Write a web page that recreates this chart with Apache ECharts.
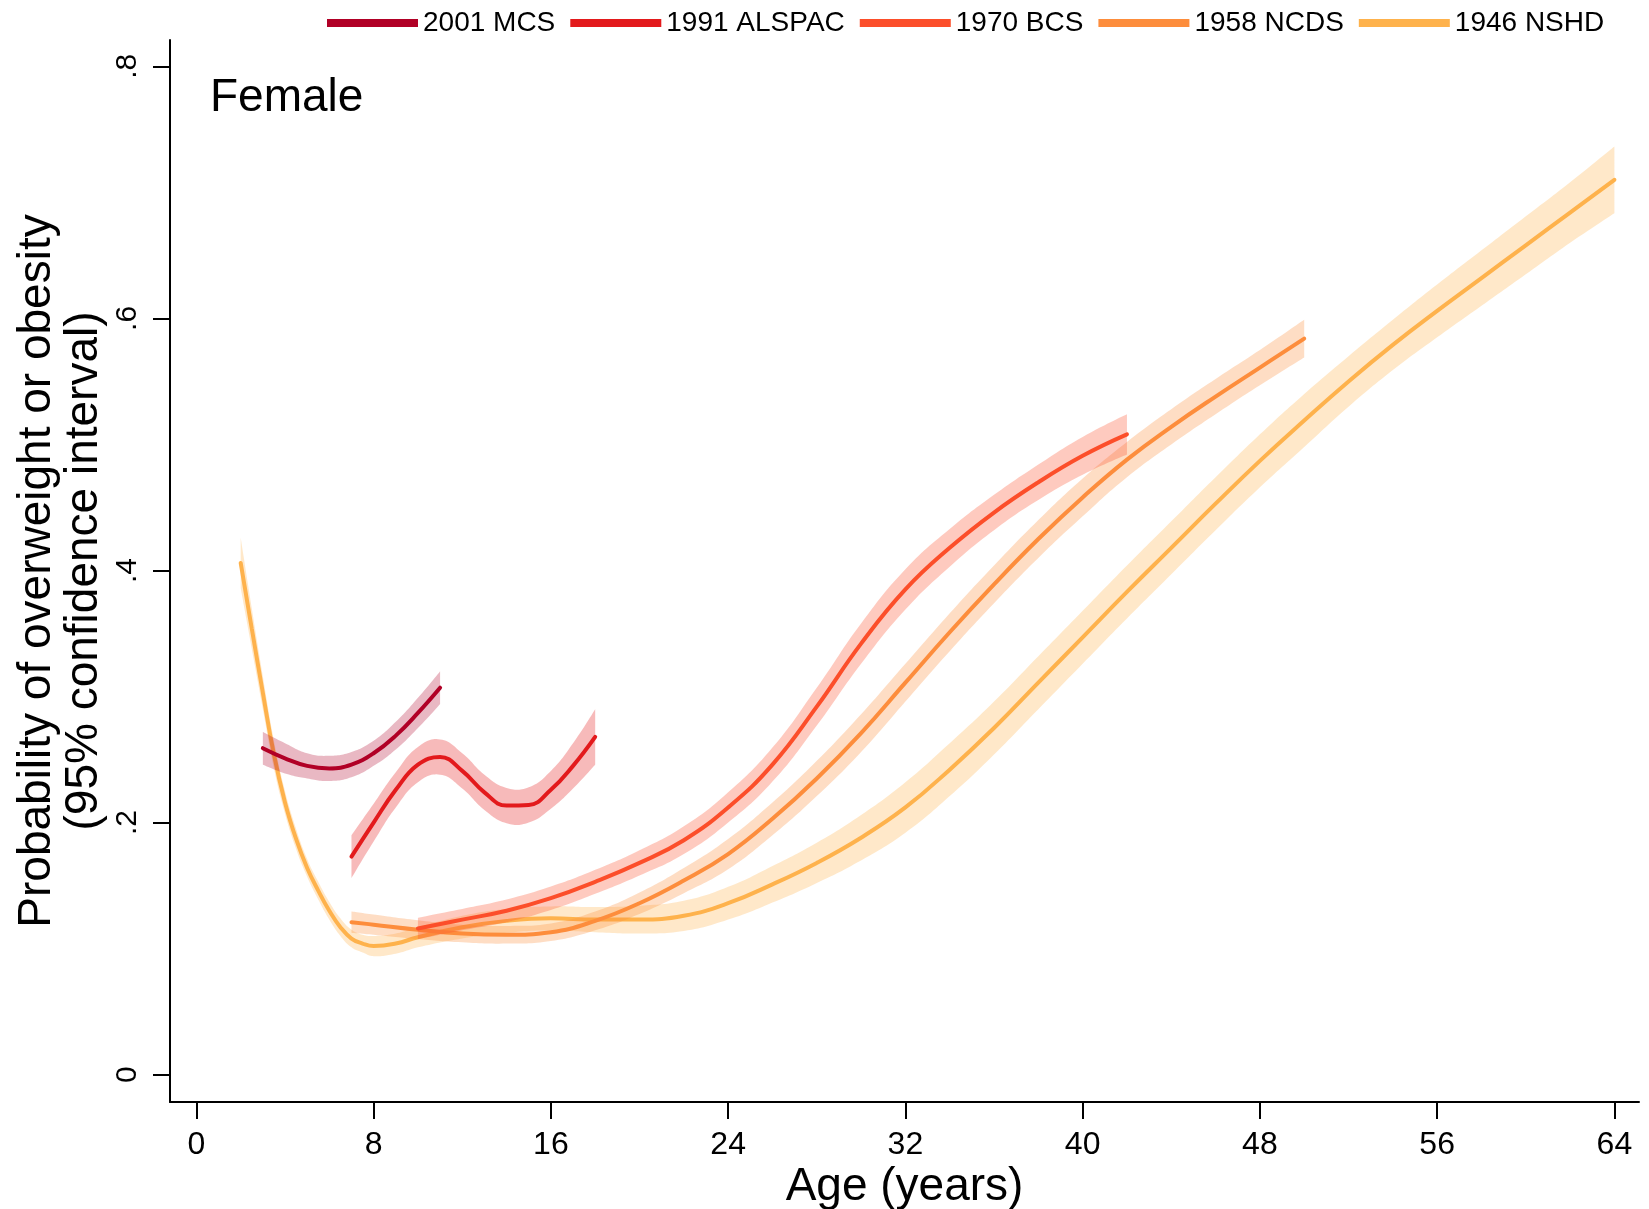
<!DOCTYPE html>
<html>
<head>
<meta charset="utf-8">
<title>Probability of overweight or obesity by age, female cohorts</title>
<script src="https://cdn.jsdelivr.net/npm/echarts@6/dist/echarts.min.js"></script>
<style>
  html, body { margin: 0; padding: 0; background: #ffffff; }
  #chart { width: 1649px; height: 1209px; }
</style>
</head>
<body>
<div id="chart"></div>
<script>
// ---- Data: predicted probability (with 95% CI) by age, per birth cohort ----
const xTicks = [0, 8, 16, 24, 32, 40, 48, 56, 64];
const yTicks = [0, 0.2, 0.4, 0.6, 0.8];

// 2001 Millennium Cohort Study
const mcsAge = [3, 4, 5, 6, 7, 8, 9, 10, 11];
const mcsEst = [0.259, 0.251, 0.245, 0.243, 0.246, 0.255, 0.269, 0.287, 0.307];
const mcsLo  = [0.246, 0.239, 0.235, 0.233, 0.236, 0.245, 0.258, 0.275, 0.294];
const mcsHi  = [0.272, 0.263, 0.255, 0.253, 0.256, 0.265, 0.280, 0.299, 0.320];

// 1991 ALSPAC
const alsAge = [7, 8, 9, 10, 11, 12, 13, 14, 15, 16, 17, 18];
const alsEst = [0.173, 0.200, 0.226, 0.246, 0.252, 0.241, 0.224, 0.2135, 0.214, 0.226, 0.245, 0.268];
const alsLo  = [0.156, 0.185, 0.212, 0.232, 0.238, 0.227, 0.210, 0.1995, 0.200, 0.211, 0.227, 0.246];
const alsHi  = [0.190, 0.215, 0.240, 0.260, 0.266, 0.255, 0.238, 0.2275, 0.228, 0.241, 0.263, 0.290];

// 1970 British Cohort Study
const bcsAge = [10, 12, 14, 16, 18, 20, 22, 24, 26, 28, 30, 32, 34, 36, 38, 40, 42];
const bcsEst = [0.116, 0.123, 0.130, 0.140, 0.153, 0.168, 0.186, 0.212, 0.246, 0.292, 0.342, 0.385, 0.418, 0.446, 0.470, 0.491, 0.508];
const bcsLo  = [0.1075, 0.1145, 0.121, 0.1307, 0.1435, 0.158, 0.175, 0.200, 0.2325, 0.277, 0.326, 0.369, 0.403, 0.432, 0.456, 0.476, 0.492];
const bcsHi  = [0.1245, 0.1315, 0.139, 0.1493, 0.1625, 0.178, 0.197, 0.224, 0.2595, 0.307, 0.358, 0.401, 0.433, 0.460, 0.484, 0.506, 0.524];

// 1958 National Child Development Study
const ncdsAge = [7, 8, 10, 12, 14, 16, 18, 20, 22, 24, 26, 28, 30, 32, 34, 36, 38, 40, 42, 44, 46, 48, 50];
const ncdsEst = [0.121, 0.119, 0.115, 0.112, 0.111, 0.113, 0.122, 0.136, 0.154, 0.175, 0.203, 0.235, 0.271, 0.311, 0.351, 0.389, 0.425, 0.458, 0.488, 0.514, 0.538, 0.561, 0.584];
const ncdsLo  = [0.1125, 0.111, 0.1075, 0.105, 0.104, 0.106, 0.1145, 0.1275, 0.144, 0.163, 0.190, 0.221, 0.256, 0.296, 0.336, 0.374, 0.410, 0.443, 0.474, 0.500, 0.524, 0.547, 0.569];
const ncdsHi  = [0.1295, 0.127, 0.1225, 0.119, 0.118, 0.120, 0.1295, 0.1445, 0.164, 0.187, 0.216, 0.249, 0.286, 0.326, 0.366, 0.404, 0.440, 0.473, 0.502, 0.528, 0.552, 0.575, 0.599];

// 1946 National Survey of Health and Development
const nshdAge = [2, 2.5, 3, 3.5, 4, 4.5, 5, 5.5, 6, 6.5, 7, 7.5, 8, 9, 10, 12, 14, 16, 18, 20, 22, 24, 26, 28, 30, 32, 34, 36, 38, 40, 42, 44, 46, 48, 50, 52, 54, 56, 58, 60, 62, 64];
const nshdEst = [0.406, 0.354, 0.303, 0.254, 0.216, 0.187, 0.164, 0.146, 0.130, 0.117, 0.108, 0.104, 0.102, 0.104, 0.109, 0.117, 0.122, 0.124, 0.123, 0.123, 0.126, 0.136, 0.151, 0.168, 0.188, 0.212, 0.242, 0.275, 0.311, 0.347, 0.383, 0.418, 0.453, 0.487, 0.519, 0.550, 0.579, 0.606, 0.632, 0.658, 0.684, 0.710];
const nshdLo  = [0.386, 0.338, 0.290, 0.243, 0.207, 0.179, 0.157, 0.139, 0.123, 0.110, 0.101, 0.097, 0.094, 0.096, 0.101, 0.108, 0.1125, 0.1145, 0.113, 0.112, 0.114, 0.123, 0.1365, 0.152, 0.170, 0.192, 0.221, 0.254, 0.290, 0.326, 0.362, 0.397, 0.432, 0.466, 0.498, 0.530, 0.559, 0.585, 0.610, 0.635, 0.660, 0.6835];
const nshdHi  = [0.426, 0.370, 0.316, 0.265, 0.225, 0.195, 0.171, 0.153, 0.137, 0.124, 0.115, 0.111, 0.110, 0.112, 0.117, 0.126, 0.1315, 0.1335, 0.133, 0.134, 0.138, 0.149, 0.1655, 0.184, 0.206, 0.232, 0.263, 0.296, 0.332, 0.368, 0.404, 0.439, 0.474, 0.508, 0.540, 0.570, 0.599, 0.627, 0.654, 0.681, 0.708, 0.7365];

// Drawing order: oldest cohort first so younger cohorts sit on top
const cohorts = [
  { name: '1946 NSHD',   color: '#FEB24C', band: 'rgba(254,178,76,0.30)', age: nshdAge, est: nshdEst, lo: nshdLo, hi: nshdHi },
  { name: '1958 NCDS',   color: '#FD8D3C', band: 'rgba(253,141,60,0.30)', age: ncdsAge, est: ncdsEst, lo: ncdsLo, hi: ncdsHi },
  { name: '1970 BCS',    color: '#FC4E2A', band: 'rgba(252,78,42,0.30)',  age: bcsAge,  est: bcsEst,  lo: bcsLo,  hi: bcsHi },
  { name: '1991 ALSPAC', color: '#E31A1C', band: 'rgba(227,26,28,0.30)',  age: alsAge,  est: alsEst,  lo: alsLo,  hi: alsHi },
  { name: '2001 MCS',    color: '#B10026', band: 'rgba(177,0,38,0.28)',   age: mcsAge,  est: mcsEst,  lo: mcsLo,  hi: mcsHi }
];
const legendOrder = ['2001 MCS', '1991 ALSPAC', '1970 BCS', '1958 NCDS', '1946 NSHD'];

const FONT = '"Liberation Sans", Arial, Helvetica, sans-serif';
const SMOOTH = 0.45;

// Bezier smoothing in pixel space, same scheme as the line series' smooth option
function smoothPixels(P, s, steps) {
  const n = P.length;
  const out = [P[0]];
  let cp0 = P[0];
  for (let i = 1; i < n; i++) {
    const prev = P[i - 1], cur = P[i];
    let cp1, nextCp0;
    if (i === n - 1) {
      cp1 = cur; nextCp0 = cur;
    } else {
      const next = P[i + 1];
      const vx = next[0] - prev[0], vy = next[1] - prev[1];
      const l0 = Math.hypot(cur[0] - prev[0], cur[1] - prev[1]);
      const l1 = Math.hypot(next[0] - cur[0], next[1] - cur[1]);
      const r = l1 / (l0 + l1);
      cp1 = [cur[0] - vx * s * (1 - r), cur[1] - vy * s * (1 - r)];
      nextCp0 = [cur[0] + vx * s * r, cur[1] + vy * s * r];
    }
    for (let k = 1; k <= steps; k++) {
      const t = k / steps, u = 1 - t;
      const a = u * u * u, b = 3 * u * u * t, c = 3 * u * t * t, d = t * t * t;
      out.push([
        a * prev[0] + b * cp0[0] + c * cp1[0] + d * cur[0],
        a * prev[1] + b * cp0[1] + c * cp1[1] + d * cur[1]
      ]);
    }
    cp0 = nextCp0;
  }
  return out;
}

// Confidence band: one filled polygon between lower and upper bounds
function bandSeries(c, z) {
  return {
    type: 'custom',
    name: c.name + ' 95% CI',
    silent: true,
    z: z,
    clip: true,
    data: c.age.map((a, i) => [a, c.lo[i], c.hi[i]]),
    encode: { x: 0, y: [1, 2] },
    renderItem: function (params, api) {
      if (params.dataIndex !== 0) return null;
      const up = c.age.map((a, i) => api.coord([a, c.hi[i]]));
      const dn = c.age.map((a, i) => api.coord([a, c.lo[i]]));
      const upS = smoothPixels(up, SMOOTH, 14);
      const dnS = smoothPixels(dn, SMOOTH, 14).reverse();
      return {
        type: 'polygon',
        shape: { points: upS.concat(dnS) },
        style: { fill: c.band, stroke: null }
      };
    }
  };
}

function lineSeries(c, z) {
  return {
    type: 'line',
    name: c.name,
    z: z,
    color: c.color,
    smooth: SMOOTH,
    showSymbol: false,
    symbol: 'none',
    silent: true,
    clip: true,
    lineStyle: { color: c.color, width: 4, cap: 'round' },
    data: c.age.map((a, i) => [a, c.est[i]])
  };
}

const series = [];
cohorts.forEach((c, k) => {
  series.push(bandSeries(c, 10 + 2 * k));
  series.push(lineSeries(c, 11 + 2 * k));
});

const chart = echarts.init(document.getElementById('chart'), null, { renderer: 'canvas' });
chart.setOption({
  animation: false,
  backgroundColor: '#ffffff',
  textStyle: { fontFamily: FONT, color: '#000' },
  title: {
    text: 'Female',
    left: 210,
    top: 75,
    padding: 0,
    textStyle: { fontFamily: FONT, fontSize: 46, fontWeight: 'normal', color: '#000' }
  },
  legend: {
    data: legendOrder,
    left: 327,
    top: 9,
    icon: 'rect',
    itemWidth: 91,
    itemHeight: 8,
    itemGap: 15,
    padding: 0,
    selectedMode: false,
    textStyle: { fontFamily: FONT, fontSize: 28, color: '#000' }
  },
  grid: {
    left: 170, right: 10, top: 40, bottom: 107,
    containLabel: false,
    outerBoundsMode: 'none'
  },
  xAxis: {
    type: 'value',
    min: -1.19,
    max: 65.11,
    name: 'Age (years)',
    nameLocation: 'middle',
    nameGap: 62,
    nameMoveOverlap: false,
    nameTextStyle: { fontFamily: FONT, fontSize: 46, lineHeight: 46, color: '#000' },
    axisLine: { show: true, onZero: false, lineStyle: { color: '#000', width: 2 } },
    axisTick: { show: true, customValues: xTicks, length: 17, lineStyle: { color: '#000', width: 2 } },
    axisLabel: { customValues: xTicks, fontFamily: FONT, fontSize: 32, color: '#000', margin: 27 },
    splitLine: { show: false }
  },
  yAxis: {
    type: 'value',
    min: -0.0217,
    max: 0.8209,
    name: 'Probability of overweight or obesity\n(95% confidence interval)',
    nameLocation: 'middle',
    nameRotate: 90,
    nameGap: 62,
    nameMoveOverlap: false,
    nameTextStyle: { fontFamily: FONT, fontSize: 46, lineHeight: 47, color: '#000', align: 'center' },
    axisLine: { show: true, onZero: false, lineStyle: { color: '#000', width: 2 } },
    axisTick: { show: true, customValues: yTicks, length: 17, lineStyle: { color: '#000', width: 2 } },
    axisLabel: {
      customValues: yTicks,
      rotate: 90,
      fontFamily: FONT,
      fontSize: 30,
      color: '#000',
      margin: 27,
      formatter: v => (v === 0 ? '0' : String(+v.toFixed(1)).replace(/^0/, ''))
    },
    splitLine: { show: false }
  },
  series: series
});
</script>
</body>
</html>
